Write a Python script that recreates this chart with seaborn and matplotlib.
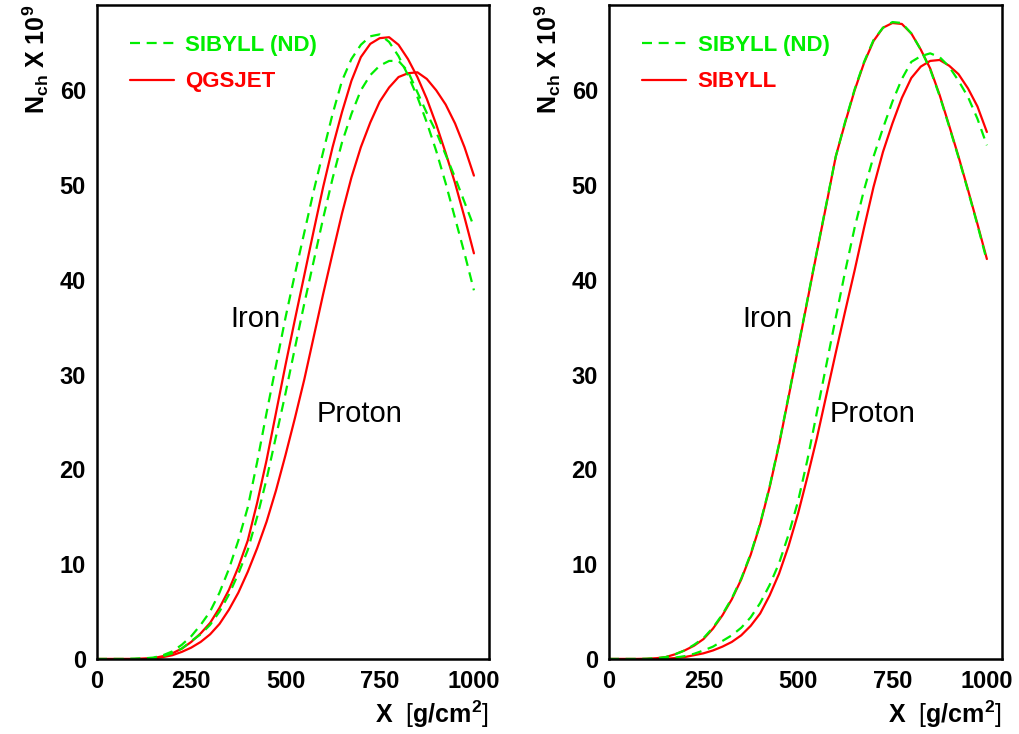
import numpy as np
import pandas as pd
import matplotlib
matplotlib.use("Agg")
import matplotlib.pyplot as plt
from matplotlib.lines import Line2D
from matplotlib.ticker import MultipleLocator
import seaborn as sns

# ---------------- data ----------------
depth = list(range(0, 1001, 25))

# Left panel: SIBYLL (ND) vs QGSJET
left_sib_nd_iron = [0, 0, 0, 0, 0.02, 0.07, 0.15, 0.4, 0.8, 1.5,
                    2.4, 3.6, 5.0, 7.0, 9.5, 12.5, 16.0, 20.8, 26.0, 31.0,
                    36.0, 40.6, 45.0, 49.4, 53.5, 57.5, 61.0, 63.3, 64.8, 65.7,
                    65.9, 65.1, 63.6, 61.6, 59.3, 56.6, 53.6, 50.2, 46.5, 42.8,
                    38.9]
left_qgs_iron = [0, 0, 0, 0, 0, 0.04, 0.1, 0.3, 0.6, 1.1,
                 1.8, 2.7, 3.8, 5.4, 7.3, 9.7, 12.5, 16.5, 21.0, 26.0,
                 31.0, 35.8, 40.5, 45.2, 49.8, 54.0, 57.7, 61.0, 63.5, 64.9,
                 65.5, 65.6, 64.8, 63.3, 61.4, 59.1, 56.4, 53.4, 50.2, 46.6,
                 42.8]
left_sib_nd_proton = [0, 0, 0, 0, 0.02, 0.05, 0.1, 0.3, 0.6, 1.1,
                      1.9, 2.6, 3.6, 5.0, 6.8, 9.0, 11.5, 15.0, 19.0, 23.5,
                      28.0, 32.8, 37.5, 42.0, 46.5, 50.7, 54.5, 57.5, 60.0, 61.6,
                      62.6, 63.1, 63.1, 62.0, 59.8, 57.6, 55.6, 53.2, 50.8, 48.2,
                      45.6]
left_qgs_proton = [0, 0, 0, 0, 0, 0.02, 0.05, 0.2, 0.4, 0.75,
                   1.2, 1.8, 2.6, 3.7, 5.2, 7.0, 9.2, 11.7, 14.5, 17.8,
                   21.5, 25.4, 29.5, 34.0, 38.5, 42.8, 47.0, 50.8, 54.0, 56.6,
                   58.8, 60.3, 61.4, 61.8, 61.9, 61.2, 60.0, 58.5, 56.5, 54.0,
                   51.0]

# Right panel: SIBYLL (ND) vs SIBYLL
right_sib_nd_iron = [0, 0, 0, 0, 0.02, 0.08, 0.2, 0.5, 0.9, 1.5,
                     2.2, 3.3, 4.7, 6.4, 8.5, 11.1, 14.3, 18.2, 22.7, 27.7,
                     32.8, 37.9, 43.0, 48.0, 53.0, 56.7, 60.1, 63.0, 65.3, 66.6,
                     67.2, 67.1, 66.0, 64.3, 62.2, 59.4, 56.2, 52.9, 49.4, 45.8,
                     42.0]
right_sib_iron = [0, 0, 0, 0, 0.02, 0.08, 0.2, 0.5, 0.9, 1.4,
                  2.1, 3.2, 4.6, 6.3, 8.4, 11.0, 14.2, 18.1, 22.6, 27.6,
                  32.7, 37.8, 42.9, 47.9, 53.0, 56.6, 60.0, 62.9, 65.2, 66.6,
                  67.1, 67.0, 66.0, 64.3, 62.3, 59.5, 56.3, 53.0, 49.5, 45.9,
                  42.2]
right_sib_nd_proton = [0, 0, 0, 0, 0, 0.02, 0.05, 0.15, 0.3, 0.55,
                       0.9, 1.3, 1.9, 2.5, 3.3, 4.4, 5.9, 7.8, 10.1, 13.1,
                       16.6, 21.0, 26.0, 31.0, 36.0, 40.9, 45.5, 49.5, 53.0, 56.0,
                       58.8, 61.2, 63.0, 63.6, 63.9, 63.5, 62.5, 61.0, 59.3, 57.0,
                       54.2]
right_sib_proton = [0, 0, 0, 0, 0, 0.01, 0.03, 0.1, 0.2, 0.4,
                    0.6, 0.9, 1.3, 1.8, 2.5, 3.5, 4.8, 6.7, 9.0, 11.9,
                    15.3, 19.2, 23.3, 27.8, 32.3, 36.7, 41.0, 45.5, 49.8, 53.5,
                    56.5, 59.2, 61.3, 62.5, 63.1, 63.2, 62.6, 61.7, 60.2, 58.3,
                    55.6]

x_ticks = [0, 250, 500, 750, 1000]
y_ticks = [0, 10, 20, 30, 40, 50, 60]

GREEN = "#00ee00"
RED = "#ff0000"

# ---------------- style ----------------
sns.set_style("white")
plt.rcParams["font.family"] = ["Liberation Sans", "DejaVu Sans"]
plt.rcParams["mathtext.fontset"] = "custom"
plt.rcParams["mathtext.rm"] = "Liberation Sans"
plt.rcParams["mathtext.bf"] = "Liberation Sans:bold"
plt.rcParams["mathtext.it"] = "Liberation Sans:italic"
for key in ["text.color", "axes.labelcolor", "xtick.color", "ytick.color"]:
    plt.rcParams[key] = "black"

fig = plt.figure(figsize=(10.2, 7.34), dpi=100)
ax_l = fig.add_axes([97 / 1020, 75 / 734, 392 / 1020, 654 / 734])
ax_r = fig.add_axes([609 / 1020, 75 / 734, 393 / 1020, 654 / 734])

dash = (0, (4.5, 3))


def draw(ax, red_iron, red_prot, green_iron, green_prot, red_name):
    sns.lineplot(x=depth, y=red_iron, ax=ax, color=RED, lw=1.6, estimator=None)
    sns.lineplot(x=depth, y=red_prot, ax=ax, color=RED, lw=1.6, estimator=None)
    sns.lineplot(x=depth, y=green_iron, ax=ax, color=GREEN, lw=1.6,
                 linestyle=dash, estimator=None)
    sns.lineplot(x=depth, y=green_prot, ax=ax, color=GREEN, lw=1.6,
                 linestyle=dash, estimator=None)
    ax.set_xlim(0, 1040)
    ax.set_ylim(0, 69)
    ax.set_xticks(x_ticks)
    ax.set_yticks(y_ticks)
    ax.xaxis.set_minor_locator(MultipleLocator(50))
    ax.yaxis.set_minor_locator(MultipleLocator(2))
    ax.tick_params(axis="both", which="major", direction="in", length=9,
                   width=1, labelsize=17, pad=8, top=False, right=False)
    ax.tick_params(axis="both", which="minor", direction="in", length=5,
                   width=1, top=False, right=False)
    for lab in ax.get_xticklabels() + ax.get_yticklabels():
        lab.set_fontweight("bold")
    for sp in ax.spines.values():
        sp.set_linewidth(1.8)
        sp.set_color("black")
    ax.set_xlabel(r"$\mathbf{X}$  [$\mathbf{g/cm^{2}}$]", fontsize=18,
                  loc="right", labelpad=4)
    ax.set_ylabel(r"$\mathbf{N_{ch}}$ $\mathbf{X\ 10^{9}}$", fontsize=18,
                  loc="top", labelpad=6)
    ax.text(353, 35.0, "Iron", fontsize=21, ha="left", va="baseline")
    ax.text(583, 25.0, "Proton", fontsize=21, ha="left", va="baseline")
    handles = [Line2D([], [], color=GREEN, lw=1.6, linestyle=dash),
               Line2D([], [], color=RED, lw=1.6)]
    leg = ax.legend(handles, ["SIBYLL (ND)", red_name], loc="upper left",
                    bbox_to_anchor=(0.033, 0.985), frameon=False,
                    handlelength=2.0, handletextpad=0.5, labelspacing=0.7,
                    prop={"weight": "bold", "size": 16})
    for txt, col in zip(leg.get_texts(), [GREEN, RED]):
        txt.set_color(col)


draw(ax_l, left_qgs_iron, left_qgs_proton, left_sib_nd_iron,
     left_sib_nd_proton, "QGSJET")
draw(ax_r, right_sib_iron, right_sib_proton, right_sib_nd_iron,
     right_sib_nd_proton, "SIBYLL")

fig.savefig("out.png", dpi=100)
